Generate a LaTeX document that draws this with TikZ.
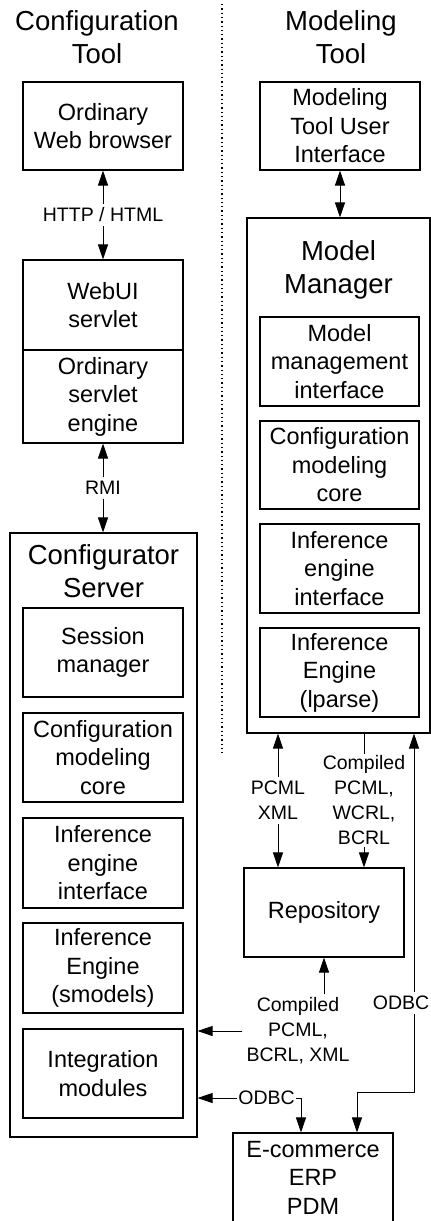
\documentclass[tikz,border=0pt]{standalone}
\usepackage{fontspec}
\setmainfont{Liberation Sans}
\usetikzlibrary{arrows.meta}
\begin{document}
\begin{tikzpicture}[x=1pt, y=-1pt,
  titlefont/.style={font=\fontsize{27.5}{33}\selectfont},
  boxfont/.style={font=\fontsize{23.5}{28.5}\selectfont},
  lblfont/.style={font=\fontsize{19.5}{25}\selectfont},
  box/.style={draw=black, line width=1.1pt, inner sep=0pt, align=center, boxfont,
              minimum width=160pt, minimum height=89pt},
  frame/.style={draw=black, line width=1.1pt, inner sep=0pt},
  heading/.style={align=center, titlefont, inner sep=0pt},
  lbl/.style={align=center, lblfont, inner sep=4pt},
  wire/.style={line width=0.9pt},
  tip/.style={wire, -{Triangle[length=15pt,width=10pt]}},
  both/.style={wire, {Triangle[length=15pt,width=10pt]}-{Triangle[length=15pt,width=10pt]}}
]
\clip (0,0) rectangle (431,1221);
\useasboundingbox (0,0) rectangle (431,1221);

% column divider
\coordinate (divtop) at (222,4);
\coordinate (divbot) at (222,753);
\draw[line width=1.3pt, dash pattern=on 1.3pt off 3pt] (divtop) -- (divbot);

% column headings
\node[heading] (cfgtool) at (97,37.5) {Configuration\\Tool};
\node[heading] (modtool) at (341,37.5) {Modeling\\Tool};

% configuration tool side
\node[box, minimum height=88pt] (browser) at (103,126) {Ordinary\\Web browser};
\node[box, minimum height=90pt] (webui) at (103,305) {WebUI\\servlet};
\node[box, minimum height=93pt] (engine) at (103,396.5) {Ordinary\\servlet\\engine};

\node[frame, minimum width=187pt, minimum height=604pt] (cs) at (103.5,835) {};
\node[heading] (cstitle) at (103.5,571.5) {Configurator\\Server};
\node[box] (sm) at (103,652.5) {Session\\manager};
\node[box] (cmcA) at (103,757.5) {Configuration\\modeling\\core};
\node[box, minimum height=90pt] (ieiA) at (103,863) {Inference\\engine\\interface};
\node[box, minimum height=90pt] (ieA) at (103,968) {Inference\\Engine\\(smodels)};
\node[box] (im) at (103,1073.5) {Integration\\modules};

% modeling tool side
\node[box, minimum height=88pt] (mtui) at (340,126) {Modeling\\Tool User\\Interface};
\node[frame, minimum width=183pt, minimum height=515pt] (mm) at (338.5,475.5) {};
\node[heading] (mmtitle) at (338.5,269.4) {Model\\Manager};
\node[box, minimum width=159pt] (mmi) at (339.5,361.5) {Model\\management\\interface};
\node[box, minimum width=159pt, minimum height=88pt] (cmcB) at (339.5,465) {Configuration\\modeling\\core};
\node[box, minimum width=159pt] (ieiB) at (339.5,568.5) {Inference\\engine\\interface};
\node[box, minimum width=159pt] (ieB) at (339.5,672.5) {Inference\\Engine\\(lparse)};

\node[box] (repo) at (324,912.5) {Repository};
\node[box] (ecom) at (313,1177.5) {E-commerce\\ERP\\PDM};

% connector labels
\node[lbl] (http) at (103,215) {HTTP / HTML};
\node[lbl] (rmi) at (103,488) {RMI};
\node[lbl] (pcml) at (278,800.5) {PCML\\XML};
\node[lbl, inner sep=2pt] (cpwb) at (364,800.5) {Compiled\\PCML,\\WCRL,\\BCRL};
\node[lbl] (odbcR) at (401,1003) {ODBC};
\node[lbl] (cpbx) at (298,1031) {Compiled\\PCML,\\BCRL, XML};
\node[lbl, inner sep=1pt] (odbcL) at (266.5,1098) {ODBC};

% connectors
\draw[tip] (http) -- (browser.south);
\draw[tip] (http) -- (webui.north);
\draw[tip] (rmi) -- (engine.south);
\draw[tip] (rmi) -- (rmi |- cs.north);
\draw[both] (mtui.south) -- (mtui.south |- mm.north);

\draw[tip] (pcml) -- (pcml |- mm.south);
\draw[tip] (pcml) -- (pcml |- repo.north);
\draw[wire] (cpwb) -- (cpwb |- mm.south);
\draw[tip] (cpwb) -- (cpwb |- repo.north);

\coordinate (rbend) at (414,1092);
\coordinate (ecomR) at ([xshift=44pt]ecom.north);
\coordinate (ecomL) at ([xshift=-12pt]ecom.north);
\draw[tip] (rbend |- odbcR.north) -- (rbend |- mm.south);
\draw[tip] (rbend |- odbcR.south) -- (rbend) -| (ecomR);

\draw[tip] (repo.south |- cpbx.north) -- (repo.south);
\draw[tip] (cpbx.west) -- (cpbx.west -| cs.east);

\draw[tip] (odbcL.west) -- (odbcL.west -| cs.east);
\draw[tip] (odbcL.east) -| (ecomL);
\end{tikzpicture}
\end{document}
